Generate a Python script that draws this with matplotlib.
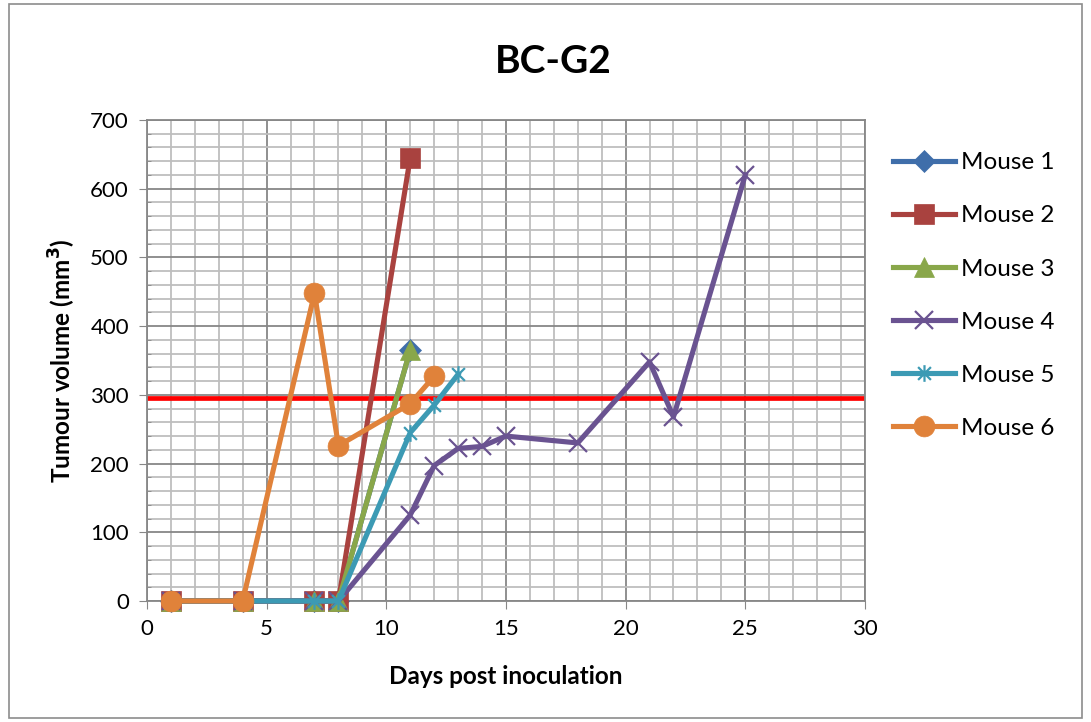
import matplotlib
matplotlib.use('Agg')
import matplotlib.pyplot as plt
from matplotlib.path import Path
from matplotlib.patches import Rectangle
from matplotlib.ticker import MultipleLocator

plt.rcParams['font.family'] = ['Lato', 'DejaVu Sans']

# data
days_short = [1, 4, 7, 8, 11]
mouse1 = [0, 0, 0, 0, 365]
mouse2 = [0, 0, 0, 0, 645]
mouse3 = [0, 0, 0, 0, 365]
days_m4 = [1, 4, 7, 8, 11, 12, 13, 14, 15, 18, 21, 22, 25]
mouse4 = [0, 0, 0, 0, 125, 197, 222, 225, 240, 230, 348, 268, 620]
days_m5 = [1, 4, 7, 8, 11, 12, 13]
mouse5 = [0, 0, 0, 0, 245, 285, 330]
days_m6 = [1, 4, 7, 8, 11, 12]
mouse6 = [0, 0, 448, 226, 287, 327]
threshold = 295

# excel style star: x plus vertical bar
star = Path([(-1, -1), (1, 1), (-1, 1), (1, -1), (0, -1.3), (0, 1.3)],
            [Path.MOVETO, Path.LINETO, Path.MOVETO, Path.LINETO, Path.MOVETO, Path.LINETO])

series = [
    ('Mouse 1', days_short, mouse1, '#3F6EAA', 'D', 11),
    ('Mouse 2', days_short, mouse2, '#A9423F', 's', 14),
    ('Mouse 3', days_short, mouse3, '#89A74A', '^', 15),
    ('Mouse 4', days_m4, mouse4, '#6A5391', 'x', 13),
    ('Mouse 5', days_m5, mouse5, '#3C9AB4', star, 12),
    ('Mouse 6', days_m6, mouse6, '#E0823A', 'o', 15),
]

fig = plt.figure(figsize=(10.91, 7.22), dpi=100)
fig.patches.append(Rectangle((0.008, 0.005), 0.984, 0.99, transform=fig.transFigure,
                             fill=False, edgecolor='#8C8C8C', lw=1.2))
ax = fig.add_axes([0.1347, 0.1676, 0.6581, 0.6662])

ax.axhline(threshold, color='#FF0000', lw=3.4, zorder=2)

for name, xs, ys, col, mk, ms in series:
    thin = mk == 'x' or mk is star
    ax.plot(xs, ys, color=col, lw=3.7, marker=mk, markersize=ms, label=name,
            markeredgewidth=1.6 if thin else 0.5, markeredgecolor=col, zorder=3,
            clip_on=False)

ax.set_xlim(0, 30)
ax.set_ylim(0, 700)
ax.xaxis.set_major_locator(MultipleLocator(5))
ax.xaxis.set_minor_locator(MultipleLocator(1))
ax.yaxis.set_major_locator(MultipleLocator(100))
ax.yaxis.set_minor_locator(MultipleLocator(20))
ax.grid(which='major', color='#878787', lw=1.3, zorder=0)
ax.grid(which='minor', color='#BEBEBE', lw=1.3, zorder=0)
ax.set_axisbelow(True)
for s in ax.spines.values():
    s.set_color('#878787')
    s.set_linewidth(1.3)
ax.tick_params(which='major', length=6, color='#878787', labelsize=16, pad=7)
ax.tick_params(which='minor', length=3, color='#878787', direction='in')
ax.tick_params(axis='x', which='minor', length=0)

ax.set_xlabel('Days post inoculation', fontsize=17.5, fontweight='bold', labelpad=19)
ax.set_ylabel('Tumour volume (mm$\\mathbf{^3}$)', fontsize=17.5, fontweight='bold', labelpad=8.5)
fig.text(0.507, 0.915, 'BC-G2', ha='center', va='center', fontsize=28, fontweight='bold')

leg = ax.legend(loc='upper left', bbox_to_anchor=(0.8185, 0.789), bbox_transform=fig.transFigure,
                frameon=False, fontsize=17.5, labelspacing=1.32, handlelength=2.55,
                handletextpad=0.25, borderaxespad=0, borderpad=0)

fig.savefig('out.png', dpi=100)
